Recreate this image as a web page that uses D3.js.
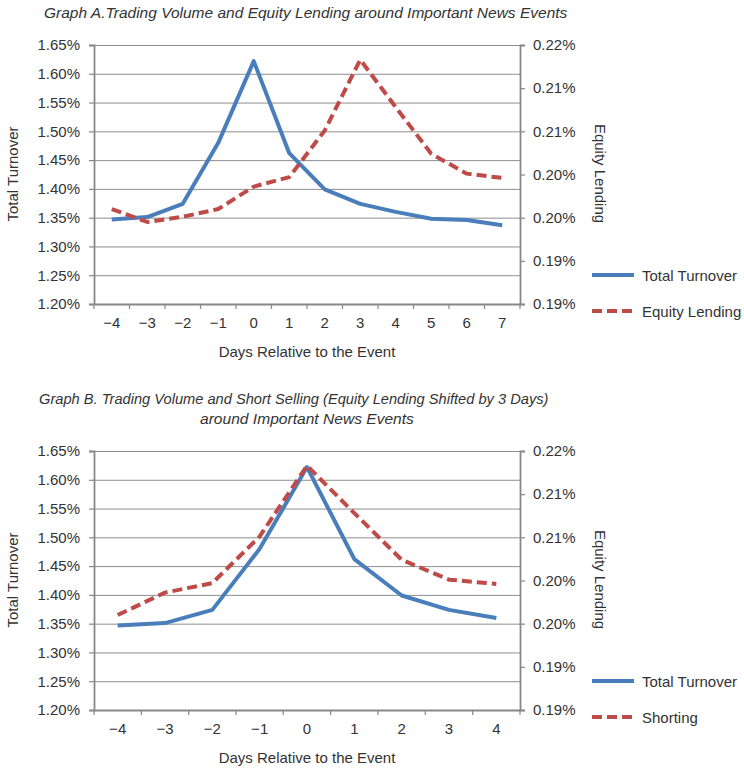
<!DOCTYPE html>
<html><head><meta charset="utf-8">
<script src="https://cdn.jsdelivr.net/npm/d3@7"></script>
<style>
body{margin:0;background:#fff}
text{font-family:"Liberation Sans",Arial,Helvetica,sans-serif;fill:#333}
</style>
</head><body>
<svg id="c" width="744" height="769"></svg>
<script>
// ---------------- data ----------------
const daysA = [-4, -3, -2, -1, 0, 1, 2, 3, 4, 5, 6, 7];
const dayLabelsA = ["\u22124", "\u22123", "\u22122", "\u22121", "0", "1", "2", "3", "4", "5", "6", "7"];
const turnoverA = [1.347, 1.351, 1.374, 1.480, 1.622, 1.462, 1.399, 1.374, 1.360, 1.348, 1.346, 1.337];
const lendingA = [0.2010, 0.1995, 0.2001, 0.2010, 0.2036, 0.2047, 0.2101, 0.2183, 0.2128, 0.2074, 0.2051, 0.2046];

const daysB = [-4, -3, -2, -1, 0, 1, 2, 3, 4];
const dayLabelsB = ["\u22124", "\u22123", "\u22122", "\u22121", "0", "1", "2", "3", "4"];
const turnoverB = [1.347, 1.351, 1.374, 1.480, 1.622, 1.462, 1.399, 1.374, 1.360];
const shortingB = [0.2010, 0.2036, 0.2047, 0.2101, 0.2183, 0.2128, 0.2074, 0.2051, 0.2046];

const leftTicks = [1.20, 1.25, 1.30, 1.35, 1.40, 1.45, 1.50, 1.55, 1.60, 1.65];
const leftTickLabels = ["1.20%", "1.25%", "1.30%", "1.35%", "1.40%", "1.45%", "1.50%", "1.55%", "1.60%", "1.65%"];
const rightTicks = [0.190, 0.195, 0.200, 0.205, 0.210, 0.215, 0.220];
const rightTickLabels = ["0.19%", "0.19%", "0.20%", "0.20%", "0.21%", "0.21%", "0.22%"];

const titleA = ["Graph A.Trading Volume and Equity Lending around Important News Events"];
const titleB = ["Graph B. Trading Volume and Short Selling (Equity Lending Shifted by 3 Days)", "around Important News Events"];
const legendA = ["Total Turnover", "Equity Lending"];
const legendB = ["Total Turnover", "Shorting"];

// ---------------- drawing ----------------
const svg = d3.select("#c");
const BLUE = "#4a7ebb", RED = "#be4b48", GRID = "#8e8e8e", AXIS = "#888888";
const L = 94, R = 520;

function panel(o) {
  const g = svg.append("g");
  const x = d3.scaleBand().domain(o.days).range([L, R]);
  const bw = x.bandwidth();
  const yL = d3.scaleLinear().domain([1.20, 1.65]).range([o.bottom, o.top]);
  const yR = d3.scaleLinear().domain([0.190, 0.220]).range([o.bottom, o.top]);

  // titles (fitted horizontally to the reference width)
  o.title.forEach((t, i) => {
    const tx = g.append("text").attr("x", 0).attr("y", 0)
      .style("font-style", "italic").style("font-size", "14.5px").text(t);
    const w = tx.node().getComputedTextLength();
    const sx = o.titleW[i] / w;
    tx.attr("transform", `translate(${o.titleX[i]},${o.titleY[i]}) scale(${sx},1)`);
  });

  // gridlines
  g.append("g").selectAll("line").data(leftTicks).join("line")
    .attr("x1", L).attr("x2", R).attr("y1", d => yL(d) + 0.5).attr("y2", d => yL(d) + 0.5)
    .attr("stroke", GRID).attr("stroke-width", 1);

  // left axis
  const la = g.append("g").attr("transform", `translate(${L},0)`)
    .call(d3.axisLeft(yL).tickValues(leftTicks).tickFormat((d, i) => leftTickLabels[i]).tickSize(5).tickPadding(9));
  la.select(".domain").attr("stroke", AXIS).attr("stroke-width", 1.8);
  la.selectAll(".tick line").attr("stroke", AXIS).attr("stroke-width", 1.2);
  la.selectAll("text").style("font-size", "15px").attr("fill", "#333").style("font-family", null);

  // right axis
  const ra = g.append("g").attr("transform", `translate(${R},0)`)
    .call(d3.axisRight(yR).tickValues(rightTicks).tickFormat((d, i) => rightTickLabels[i]).tickSize(5).tickPadding(8));
  ra.select(".domain").attr("stroke", AXIS).attr("stroke-width", 1.8);
  ra.selectAll(".tick line").attr("stroke", AXIS).attr("stroke-width", 1.2);
  ra.selectAll("text").style("font-size", "15px").attr("fill", "#333").style("font-family", null);

  // bottom axis (labels at band centres)
  const ba = g.append("g").attr("transform", `translate(0,${o.bottom})`)
    .call(d3.axisBottom(x).tickFormat((d, i) => o.dayLabels[i]).tickSize(0).tickPadding(13));
  ba.select(".domain").attr("stroke", AXIS).attr("stroke-width", 1.8);
  ba.selectAll("text").style("font-size", "15px").attr("fill", "#333").style("font-family", null);
  // tick marks at band boundaries
  const bounds = o.days.map(d => x(d)).concat([x(o.days[o.days.length - 1]) + bw]);
  g.append("g").selectAll("line").data(bounds).join("line")
    .attr("x1", d => d).attr("x2", d => d).attr("y1", o.bottom).attr("y2", o.bottom + 5)
    .attr("stroke", AXIS).attr("stroke-width", 1.2);

  // axis titles
  g.append("text").attr("transform", `translate(${(L + R) / 2},${o.bottom + 53})`)
    .attr("text-anchor", "middle").style("font-size", "15px").text("Days Relative to the Event");
  const midY = (o.top + o.bottom) / 2;
  g.append("text").attr("transform", `translate(18,${midY - 0.5}) rotate(-90)`)
    .attr("text-anchor", "middle").style("font-size", "15px").text("Total Turnover");
  g.append("text").attr("transform", `translate(595,${midY - 1}) rotate(90)`)
    .attr("text-anchor", "middle").style("font-size", "15px").text("Equity Lending");

  // series
  const cx = (i) => x(o.days[i]) + bw / 2;
  g.append("path").datum(o.blue)
    .attr("d", d3.line().x((d, i) => cx(i)).y(d => yL(d)))
    .attr("fill", "none").attr("stroke", BLUE).attr("stroke-width", 4)
    .attr("stroke-linejoin", "round");
  g.append("path").datum(o.red)
    .attr("d", d3.line().x((d, i) => cx(i)).y(d => yR(d)))
    .attr("fill", "none").attr("stroke", RED).attr("stroke-width", 4)
    .attr("stroke-dasharray", "10,5").attr("stroke-linejoin", "round");

  // legend
  const lg = g.append("g");
  o.legend.forEach((t, i) => {
    const yy = o.legY[i];
    lg.append("line").attr("x1", 592).attr("x2", 634).attr("y1", yy).attr("y2", yy)
      .attr("stroke", i === 0 ? BLUE : RED).attr("stroke-width", 4)
      .attr("stroke-dasharray", i === 0 ? null : "10,5");
    lg.append("text").attr("x", 642).attr("y", yy + 5.5).style("font-size", "15px").text(t);
  });
}

panel({
  days: daysA, dayLabels: dayLabelsA, blue: turnoverA, red: lendingA,
  top: 45, bottom: 304,
  title: titleA, titleX: [44], titleY: [18], titleW: [524],
  legend: legendA, legY: [275, 311]
});
panel({
  days: daysB, dayLabels: dayLabelsB, blue: turnoverB, red: shortingB,
  top: 451, bottom: 710,
  title: titleB, titleX: [39, 200], titleY: [404, 424], titleW: [510, 214],
  legend: legendB, legY: [681, 717]
});
</script>
</body></html>
